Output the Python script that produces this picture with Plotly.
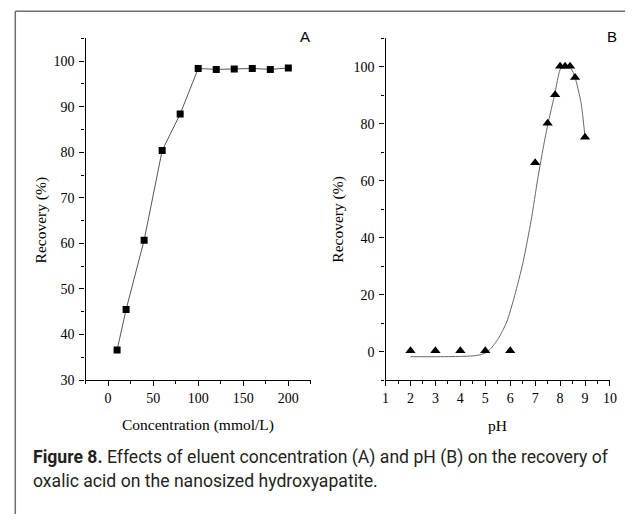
import plotly.graph_objects as go

W, H = 632, 522

# ---- data ----
conc = [10, 20, 40, 60, 80, 100, 120, 140, 160, 180, 200]
recovery_conc = [36.6, 45.5, 60.7, 80.4, 88.4, 98.4, 98.2, 98.3, 98.4, 98.2, 98.5]

ph = [2, 3, 4, 5, 6, 7, 7.5, 7.8, 8.0, 8.2, 8.4, 8.6, 9.0]
recovery_ph = [0.3, 0.3, 0.3, 0.3, 0.3, 66.3, 80.2, 90.2, 100.2, 100.2, 100.2, 96.3, 75.3]

# fitted curve
fit_ph = [2, 3, 4, 4.5, 4.8, 5.0, 5.2, 5.53, 5.86, 6.18, 6.51, 6.84, 7.1, 7.3, 7.5, 7.8, 8.0, 8.2, 8.44, 8.6, 8.84, 9.0]
fit_rec = [-1.8, -1.8, -1.7, -1.5, -1.1, -0.5, 0.8, 4.7, 10.4, 19.7, 31.2, 46.1, 60.5, 70.5, 79.5, 91, 99, 100.8, 99.4, 96.3, 87.4, 75.3]

x1_ticks = [0, 50, 100, 150, 200]
y1_ticks = [30, 40, 50, 60, 70, 80, 90, 100]
x2_ticks = [1, 2, 3, 4, 5, 6, 7, 8, 9, 10]
y2_ticks = [0, 20, 40, 60, 80, 100]


def px(x):
    return x / W


def py(y):
    return 1 - y / H


serif = "Liberation Serif"
sans = "Liberation Sans"
cap_font = "Roboto"

fig = go.Figure()

fig.add_trace(go.Scatter(
    x=conc, y=recovery_conc, mode="lines+markers",
    line=dict(color="#555555", width=1),
    marker=dict(symbol="square", size=7, color="black"),
    xaxis="x", yaxis="y", showlegend=False))

fig.add_trace(go.Scatter(
    x=fit_ph, y=fit_rec, mode="lines",
    line=dict(color="#666666", width=1, shape="spline", smoothing=0.6),
    xaxis="x2", yaxis="y2", showlegend=False))

fig.add_trace(go.Scatter(
    x=ph, y=recovery_ph, mode="markers",
    marker=dict(symbol="triangle-up", size=9, color="black"),
    xaxis="x2", yaxis="y2", showlegend=False))


def ax(**kw):
    d = dict(
        showline=True, linecolor="black", linewidth=1.3, showgrid=False, zeroline=False,
        ticks="outside", ticklen=5, tickwidth=1, tickcolor="black",
        tickfont=dict(family=serif, size=14, color="black"),
        fixedrange=True,
    )
    d.update(kw)
    return d


fig.update_layout(
    width=W, height=H, autosize=False,
    margin=dict(l=0, r=0, t=0, b=0),
    paper_bgcolor="white", plot_bgcolor="white",
    font=dict(family=serif, size=14, color="black"),
    xaxis=ax(domain=[px(83), px(312.3)], range=[-25, 225], anchor="y",
             tickvals=x1_ticks,
             minor=dict(ticks="outside", ticklen=3, dtick=25, tick0=0, tickcolor="black")),
    yaxis=ax(domain=[py(386), py(39)], range=[30, 105], anchor="x",
             tickvals=y1_ticks, ticklabelstandoff=2,
             minor=dict(ticks="outside", ticklen=3, dtick=5, tick0=0, tickcolor="black")),
    xaxis2=ax(domain=[px(388.3), px(616.7)], range=[1, 10], anchor="y2",
              tickvals=x2_ticks,
              minor=dict(ticks="outside", ticklen=3, dtick=0.5, tick0=0, tickcolor="black")),
    yaxis2=ax(domain=[py(386), py(39)], range=[-10, 110], anchor="x2",
              tickvals=y2_ticks, ticklabelstandoff=2,
              minor=dict(ticks="outside", ticklen=3, dtick=10, tick0=0, tickcolor="black")),
)

ann = []
title_font = dict(family=serif, size=15.5, color="black")
ann.append(dict(text="Recovery (%)", x=px(37.5), y=py(223), xref="paper", yref="paper",
                textangle=-90, showarrow=False, font=title_font, xanchor="center", yanchor="middle"))
ann.append(dict(text="Recovery (%)", x=px(339), y=py(223), xref="paper", yref="paper",
                textangle=-90, showarrow=False, font=title_font, xanchor="center", yanchor="middle"))
ann.append(dict(text="Concentration (mmol/L)", x=px(197.5), y=py(432), xref="paper", yref="paper",
                showarrow=False, font=title_font, xanchor="center", yanchor="middle"))
ann.append(dict(text="pH", x=px(502.5), y=py(432), xref="paper", yref="paper",
                showarrow=False, font=title_font, xanchor="center", yanchor="middle"))
ann.append(dict(text="A", x=px(306.5), y=py(37.5), xref="paper", yref="paper",
                showarrow=False, font=dict(family=sans, size=15, color="black"),
                xanchor="center", yanchor="middle"))
ann.append(dict(text="B", x=px(618.5), y=py(37.5), xref="paper", yref="paper",
                showarrow=False, font=dict(family=sans, size=15, color="black"),
                xanchor="center", yanchor="middle"))
cap = dict(family=cap_font, size=17.6, color="#231f20")
ann.append(dict(text="<b>Figure 8.</b> Effects of eluent concentration (A) and pH (B) on the recovery of",
                x=px(27), y=py(465), xref="paper", yref="paper", showarrow=False,
                font=cap, xanchor="left", yanchor="middle"))
ann.append(dict(text="oxalic acid on the nanosized hydroxyapatite.",
                x=px(27), y=py(488), xref="paper", yref="paper", showarrow=False,
                font=cap, xanchor="left", yanchor="middle"))
fig.update_layout(annotations=ann)

border = dict(color="#6e6e6e", width=1.5)
fig.update_layout(shapes=[
    dict(type="line", xref="paper", yref="paper", x0=px(11.5), x1=px(11.5), y0=0, y1=py(11.5), line=border),
    dict(type="line", xref="paper", yref="paper", x0=px(11.5), x1=1, y0=py(11.5), y1=py(11.5), line=border),
])

fig.write_html("out.html")
